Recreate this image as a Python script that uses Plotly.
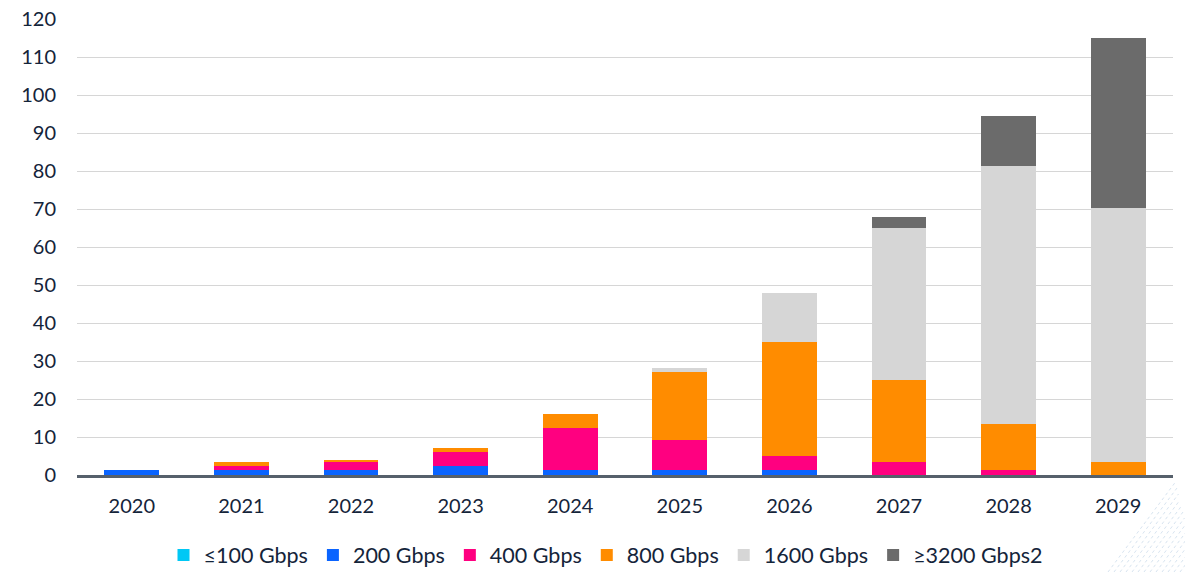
import plotly.graph_objects as go

# Port-speed shipments by year (stacked)
years = ["2020", "2021", "2022", "2023", "2024", "2025", "2026", "2027", "2028", "2029"]

series_names = ["≤100 Gbps", "200 Gbps", "400 Gbps", "800 Gbps", "1600 Gbps", "≥3200 Gbps2"]

gbps_100 = [0, 0, 0, 0, 0, 0, 0, 0, 0, 0]
gbps_200 = [1.2, 1.2, 1.2, 2.3, 1.2, 1.2, 1.2, 0, 0, 0]
gbps_400 = [0, 1.1, 2.1, 3.7, 11.1, 7.9, 3.7, 3.3, 1.2, 0]
gbps_800 = [0, 1.0, 0.6, 1.0, 3.7, 17.9, 30.0, 21.6, 12.1, 3.3]
gbps_1600 = [0, 0, 0, 0, 0, 1.1, 13.1, 40.0, 67.9, 66.9]
gbps_3200 = [0, 0, 0, 0, 0, 0, 0, 3.1, 13.2, 44.7]

y_ticks = [0, 10, 20, 30, 40, 50, 60, 70, 80, 90, 100, 110, 120]

series_values = [gbps_100, gbps_200, gbps_400, gbps_800, gbps_1600, gbps_3200]
series_colors = ["#00C8F5", "#0A64FF", "#FF0080", "#FF8C00", "#D6D6D6", "#6B6B6B"]

TEXT = "#14243A"
FONT = "Lato"

fig = go.Figure()
for name, vals, color in zip(series_names, series_values, series_colors):
    fig.add_trace(go.Bar(
        x=years, y=vals, name=name,
        marker=dict(color=color, line=dict(width=0)),
    ))

# faint diagonal pattern in the lower-right corner
W, H = 1185, 572
L, R, T, B = 77, 12, 19, 97
pw, ph = W - L - R, H - T - B


def px(xp):
    return (xp - L) / pw


def py(yp):
    return (H - B - yp) / ph


shapes = []
for k in range(14):
    x0 = 1108 + k * 6
    y0 = 572
    length = 90 - k * 6
    x1 = x0 + length * 0.75
    y1 = y0 - length
    shapes.append(dict(
        type="line", xref="paper", yref="paper",
        x0=px(x0), y0=py(y0), x1=px(x1), y1=py(y1),
        line=dict(color="rgba(140,175,210,0.35)", width=1, dash="dot"),
        layer="below",
    ))

fig.update_layout(
    width=W, height=H,
    margin=dict(l=L, r=R, t=T, b=B, pad=0, autoexpand=False),
    barmode="stack",
    bargap=0.5,
    plot_bgcolor="white",
    paper_bgcolor="white",
    font=dict(family=FONT, size=20, color=TEXT),
    showlegend=True,
    legend=dict(
        orientation="h",
        x=(168 + 1043) / 2 / W, xanchor="center", xref="container",
        y=(H - 555) / H, yanchor="middle", yref="container",
        font=dict(family=FONT, size=21.5, color=TEXT),
        traceorder="normal",
        itemwidth=30,
        bgcolor="rgba(0,0,0,0)",
    ),
    shapes=shapes,
)

fig.update_xaxes(
    type="category",
    showgrid=False,
    showline=True, linecolor="#56606B", linewidth=2.5,
    ticks="",
    ticklabelstandoff=11,
    tickfont=dict(family=FONT, size=20, color=TEXT),
)
fig.update_yaxes(
    range=[0, 120],
    tickvals=y_ticks,
    showgrid=True, gridcolor="#D6D6D6", gridwidth=1.4,
    zeroline=False,
    showline=False,
    ticks="",
    ticklabelstandoff=20,
    tickfont=dict(family=FONT, size=20, color=TEXT),
)

fig.write_html("out.html")
